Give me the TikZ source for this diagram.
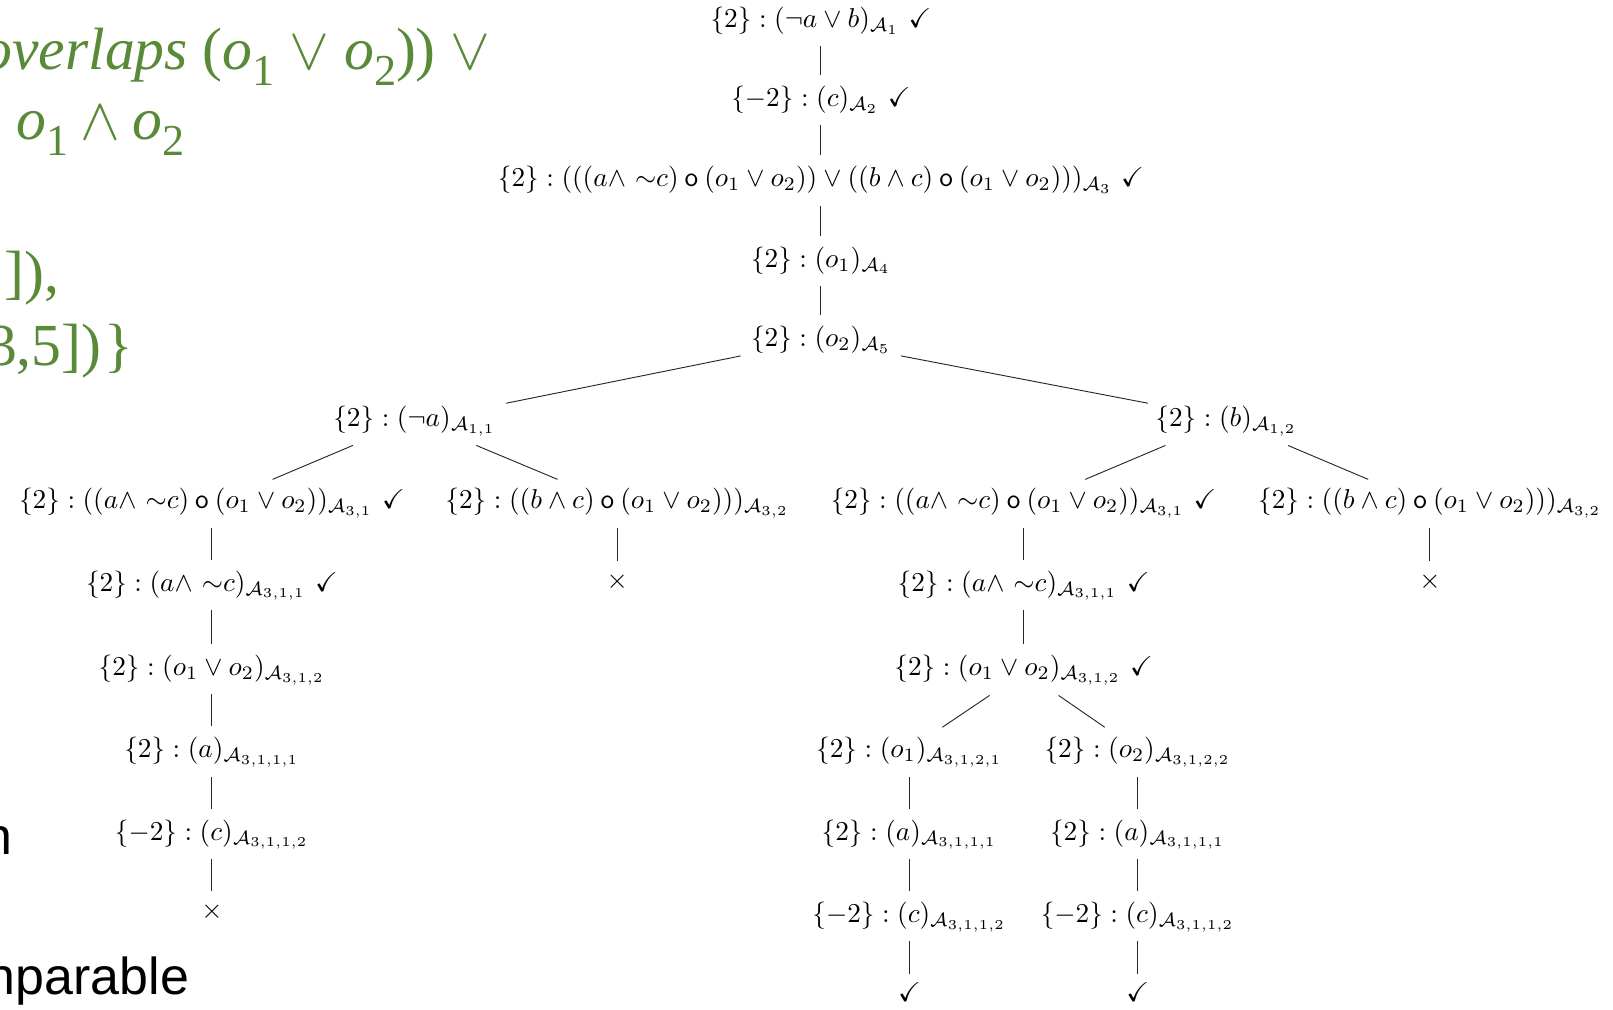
\documentclass[tikz,border=0pt]{standalone}
\usepackage{amssymb}
\usepackage{fontspec}
\newfontfamily\gserif{Liberation Serif}
\newfontfamily\bsans{Liberation Sans}
\usetikzlibrary{calc}
\definecolor{slidegreen}{RGB}{88,138,56}
\tikzset{
  tnode/.style={inner sep=0pt, text height=7.5pt, text depth=2.5pt, font=\normalsize, scale=2.65},
  edge/.style={line width=0.9pt, draw=black!85},
  vedge/.style={edge, shorten <=25pt, shorten >=24pt},
  tedge/.style={edge, shorten <=25pt, shorten >=20pt},
  gtext/.style={text=slidegreen, inner sep=0pt, font=\fontsize{10}{12}\gserif, scale=5.8},
  btext/.style={inner sep=0pt, font=\fontsize{50.5}{56}\bsans},
}
\newcommand{\gsb}[1]{\raisebox{-2.6pt}{\fontsize{7.4}{8}\selectfont #1}}
\newcommand{\opo}{\mathbin{\mathsf{o}}}
\newcommand{\anc}{{a\wedge}\ {\sim}c}
\begin{document}
\begin{tikzpicture}[x=1pt,y=-1pt]
\useasboundingbox (0,0) rectangle (1568,981);
% slide remnants
\node[gtext, anchor=base east] (g1) at (478,68) {\textit{overlaps} (\textit{o}\gsb{1} $\vee$ \textit{o}\gsb{2})) $\vee$};
\node[gtext, anchor=base west] (g2) at (15,136) {\textit{o}\gsb{1}\kern-0.5pt\ $\wedge$\ \kern-0.5pt\textit{o}\gsb{2}};
\node[gtext, anchor=base west] (g3) at (3,284) {]),};
\node[gtext, anchor=base east] (g4) at (131,355) {3,5])\kern0.6pt\}};
\node[btext, anchor=base east] (b1) at (12.5,831) {n};
\node[btext, anchor=base east] (b2) at (184,967) {nparable};
% tree
\node[tnode] (n1) at (798,20) {$\{2\} : (\neg a \vee b)_{\mathcal{A}_1}$ \checkmark};
\node[tnode] (n2) at (798,97) {$\{-2\} : (c)_{\mathcal{A}_2}$ \checkmark};
\node[tnode] (n3) at (798,175) {$\{2\} : (((\anc) \opo (o_1 \vee o_2)) \vee ((b \wedge c) \opo (o_1 \vee o_2)))_{\mathcal{A}_3}$ \checkmark};
\node[tnode] (n4) at (798,253) {$\{2\} : (o_1)_{\mathcal{A}_4}$};
\node[tnode] (n5) at (798,330) {$\{2\} : (o_2)_{\mathcal{A}_5}$};
\node[tnode] (l1) at (403,408) {$\{2\} : (\neg a)_{\mathcal{A}_{1,1}}$};
\node[tnode] (r1) at (1192,408) {$\{2\} : (b)_{\mathcal{A}_{1,2}}$};
\node[tnode] (la) at (206,488) {$\{2\} : ((\anc) \opo (o_1 \vee o_2))_{\mathcal{A}_{3,1}}$ \checkmark};
\node[tnode] (lb) at (600,488) {$\{2\} : ((b \wedge c) \opo (o_1 \vee o_2)))_{\mathcal{A}_{3,2}}$};
\node[tnode] (ra) at (995,488) {$\{2\} : ((\anc) \opo (o_1 \vee o_2))_{\mathcal{A}_{3,1}}$ \checkmark};
\node[tnode] (rb) at (1390,488) {$\{2\} : ((b \wedge c) \opo (o_1 \vee o_2)))_{\mathcal{A}_{3,2}}$};
\node[tnode] (lbx) at (600,565) {$\times$};
\node[tnode] (rbx) at (1390,565) {$\times$};
\node[tnode] (lc) at (206,568) {$\{2\} : (\anc)_{\mathcal{A}_{3,1,1}}$ \checkmark};
\node[tnode] (ld) at (206,650) {$\{2\} : (o_1 \vee o_2)_{\mathcal{A}_{3,1,2}}$};
\node[tnode] (le) at (206,730) {$\{2\} : (a)_{\mathcal{A}_{3,1,1,1}}$};
\node[tnode] (lf) at (206,810) {$\{-2\} : (c)_{\mathcal{A}_{3,1,1,2}}$};
\node[tnode] (lx) at (206,886) {$\times$};
\node[tnode] (rc) at (995,568) {$\{2\} : (\anc)_{\mathcal{A}_{3,1,1}}$ \checkmark};
\node[tnode] (rd) at (995,650) {$\{2\} : (o_1 \vee o_2)_{\mathcal{A}_{3,1,2}}$ \checkmark};
\node[tnode] (rg1) at (884,730) {$\{2\} : (o_1)_{\mathcal{A}_{3,1,2,1}}$};
\node[tnode] (rg2) at (1106,730) {$\{2\} : (o_2)_{\mathcal{A}_{3,1,2,2}}$};
\node[tnode] (rh1) at (884,810) {$\{2\} : (a)_{\mathcal{A}_{3,1,1,1}}$};
\node[tnode] (rh2) at (1106,810) {$\{2\} : (a)_{\mathcal{A}_{3,1,1,1}}$};
\node[tnode] (ri1) at (884,890) {$\{-2\} : (c)_{\mathcal{A}_{3,1,1,2}}$};
\node[tnode] (ri2) at (1106,890) {$\{-2\} : (c)_{\mathcal{A}_{3,1,1,2}}$};
\node[tnode] (rk1) at (884,967) {\checkmark};
\node[tnode] (rk2) at (1106,967) {\checkmark};
% edges
\draw[vedge] (n1.center) -- (n2.center);
\draw[vedge] (n2.center) -- (n3.center);
\draw[vedge] (n3.center) -- (n4.center);
\draw[vedge] (n4.center) -- (n5.center);
\draw[edge] ($(n5.center)+(-78,16)$) -- ($(l1.center)+(89,-16)$);
\draw[edge] ($(n5.center)+(78,16)$) -- ($(r1.center)+(-76,-16)$);
\draw[edge] ($(l1.center)+(-60,25)$) -- ($(la.center)+(59,-22)$);
\draw[edge] ($(l1.center)+(60,25)$) -- ($(lb.center)+(-58,-22)$);
\draw[edge] ($(r1.center)+(-59,25)$) -- ($(ra.center)+(60,-22)$);
\draw[edge] ($(r1.center)+(60,25)$) -- ($(rb.center)+(-60,-22)$);
\draw[tedge] (lb.center) -- (lbx.center);
\draw[tedge] (rb.center) -- (rbx.center);
\draw[vedge] (la.center) -- (lc.center);
\draw[vedge] (lc.center) -- (ld.center);
\draw[vedge] (ld.center) -- (le.center);
\draw[vedge] (le.center) -- (lf.center);
\draw[tedge] (lf.center) -- (lx.center);
\draw[vedge] (ra.center) -- (rc.center);
\draw[vedge] (rc.center) -- (rd.center);
\draw[edge] ($(rd.center)+(-33,26)$) -- ($(rg1.center)+(32,-23)$);
\draw[edge] ($(rd.center)+(34,26)$) -- ($(rg2.center)+(-32,-23)$);
\draw[vedge] (rg1.center) -- (rh1.center);
\draw[vedge] (rh1.center) -- (ri1.center);
\draw[tedge] (ri1.center) -- (rk1.center);
\draw[vedge] (rg2.center) -- (rh2.center);
\draw[vedge] (rh2.center) -- (ri2.center);
\draw[tedge] (ri2.center) -- (rk2.center);
\end{tikzpicture}
\end{document}
